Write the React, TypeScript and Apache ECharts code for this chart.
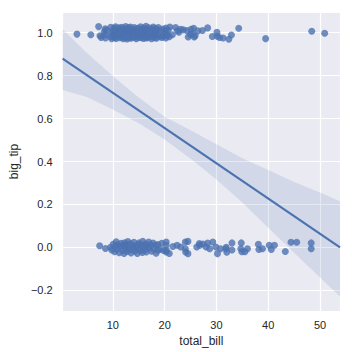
import React, { useEffect, useRef } from 'react';
import * as echarts from 'echarts';

// Axis ticks
const xTicks = [10, 20, 30, 40, 50];
const yTicks = [-0.2, 0.0, 0.2, 0.4, 0.6, 0.8, 1.0];
const xRange = [0.3, 53.86];
const yRange = [-0.296, 1.096];

// Jittered observations: big_tip = 1
const bigTipYes: number[][] = [
  [3.07, 0.993], [5.75, 0.99],
  [7.25, 1.028], [7.51, 0.985], [7.74, 0.978], [8.35, 1.004], [8.51, 0.99], [8.52, 1.018], [8.58, 0.975], [8.77, 1.012],
  [9.55, 0.982], [9.6, 1.025], [9.68, 0.996], [9.78, 0.972], [9.94, 1.008],
  [10.07, 0.985], [10.27, 1.02], [10.29, 0.977], [10.33, 1.003], [10.34, 0.99], [10.51, 1.027], [10.59, 0.981], [10.63, 1.011],
  [10.65, 0.973], [11.02, 0.995], [11.17, 1.022], [11.24, 0.984], [11.35, 1.006], [11.38, 0.976], [11.59, 1.015], [11.61, 0.989],
  [11.69, 1.025], [11.87, 0.98], [12.02, 1.002], [12.03, 0.972], [12.16, 1.018], [12.26, 0.987], [12.43, 1.009], [12.46, 0.978],
  [12.48, 1.028], [12.54, 0.994], [12.6, 0.983], [12.66, 1.014], [12.74, 0.971], [12.9, 1.003],
  [13.0, 0.988], [13.03, 1.022], [13.13, 0.976], [13.27, 1.01], [13.28, 0.992], [13.37, 0.981], [13.39, 1.026], [13.42, 1.0],
  [13.51, 0.974], [13.81, 1.016], [13.94, 0.986], [14.0, 1.007], [14.07, 0.979], [14.15, 1.024], [14.26, 0.995], [14.31, 0.983],
  [14.48, 1.012], [14.52, 0.972], [14.73, 1.003], [14.78, 0.99], [14.83, 1.02],
  [15.01, 0.978], [15.04, 1.008], [15.06, 0.985], [15.36, 1.027], [15.38, 0.997], [15.48, 0.976], [15.53, 1.015], [15.69, 0.988],
  [15.77, 1.005], [15.95, 0.973], [15.98, 1.021], [16.0, 0.993], [16.27, 0.982], [16.29, 1.011], [16.31, 0.977], [16.4, 1.029],
  [16.43, 0.998], [16.47, 0.984], [16.49, 1.016], [16.58, 0.975], [16.82, 1.006], [16.93, 0.989], [16.97, 1.023], [17.07, 0.98],
  [17.29, 1.002], [17.46, 0.972], [17.51, 1.017], [17.59, 0.991], [17.78, 0.983], [17.81, 1.026], [17.92, 1.008], [18.04, 0.976],
  [18.15, 0.995], [18.24, 1.019], [18.29, 0.986], [18.35, 1.004], [18.43, 0.974], [18.64, 1.013], [18.71, 0.99], [18.78, 1.024],
  [19.08, 0.981], [19.44, 1.009], [19.49, 0.977], [19.65, 1.017], [19.77, 0.993], [19.82, 0.984], [20.08, 1.006], [20.23, 0.975],
  [20.27, 1.021], [20.29, 0.997], [20.53, 0.986], [20.69, 1.012], [20.9, 0.981],
  [21.01, 1.026], [21.5, 0.99], [22.12, 1.024], [22.49, 1.009], [22.76, 1.002], [23.1, 1.016], [23.6, 1.013], [24.27, 1.01],
  [24.55, 0.98], [25.0, 0.991], [25.1, 1.015], [25.28, 0.996], [25.6, 1.02], [25.71, 0.98], [25.89, 0.985], [26.41, 1.008],
  [27.3, 1.01], [28.3, 1.022], [29.2, 0.982], [30.1, 1.001], [30.15, 0.983], [30.6, 0.977], [31.3, 0.975], [32.4, 0.969],
  [32.9, 0.989], [34.3, 1.02], [39.5, 0.972], [48.4, 1.006], [50.9, 0.997],
];

// Jittered observations: big_tip = 0
const bigTipNo: number[][] = [
  [7.45, 0.008], [8.57, -0.005],
  [9.55, 0.001], [9.78, -0.012], [10.07, 0.015], [10.34, -0.02], [10.51, 0.006], [10.65, 0.026], [10.77, -0.008], [11.02, 0.012],
  [11.24, -0.025], [11.35, 0.003], [11.61, 0.019], [11.87, -0.014], [12.02, 0.008], [12.16, -0.028], [12.26, 0.022], [12.43, -0.004],
  [12.6, 0.014], [12.69, -0.019], [12.9, 0.027], [13.0, 0.0], [13.16, -0.012], [13.42, 0.017], [13.51, -0.026], [13.81, 0.007],
  [13.94, -0.009], [14.07, 0.024], [14.26, -0.017], [14.48, 0.004], [14.73, -0.028], [14.83, 0.013], [15.01, -0.006], [15.06, 0.021],
  [15.36, -0.015], [15.48, 0.009], [15.69, -0.024], [15.77, 0.028], [15.98, 0.002], [16.21, -0.011], [16.29, 0.016], [16.45, -0.021],
  [16.66, 0.006], [16.93, 0.025], [16.99, -0.004], [17.26, 0.012], [17.47, -0.018], [17.78, 0.02], [17.92, -0.007], [18.26, 0.01],
  [18.35, -0.027], [18.69, 0.014], [18.7, -0.013], [19.08, -0.009], [19.44, 0.019], [19.81, -0.014],
  [20.3, 0.025], [20.3, 0.01], [20.35, -0.013], [20.3, -0.021], [20.9, -0.028], [21.6, 0.004], [22.4, 0.01], [23.1, 0.002],
  [24.0, 0.025], [24.0, -0.006], [24.05, -0.021], [24.5, 0.028], [24.5, -0.029], [26.2, 0.002], [26.7, 0.018], [26.8, 0.01],
  [27.4, 0.016], [28.0, 0.002], [28.3, 0.02], [28.7, -0.006], [29.3, 0.025], [29.9, 0.002], [30.2, -0.029], [30.8, -0.006],
  [31.8, -0.006], [31.9, 0.001], [32.0, -0.022], [33.0, 0.021], [33.0, -0.012], [34.8, 0.021], [34.7, -0.006], [34.9, -0.02],
  [35.5, -0.02], [36.0, -0.006], [38.1, 0.015], [38.2, -0.01], [38.9, -0.006], [40.2, 0.01], [40.6, -0.01], [41.2, 0.01],
  [43.3, -0.019], [44.4, 0.024], [45.5, 0.024], [48.3, 0.021], [48.3, -0.006],
];

// Fitted regression line
const fitX = [0.3, 53.86];
const fitY = [0.879, 0.0];

// Confidence band
const bandX = [0.3, 5, 10, 15, 20, 25, 30, 35, 40, 45, 50, 53.86];
const bandUpper = [1.016, 0.905, 0.798, 0.698, 0.608, 0.545, 0.48, 0.415, 0.36, 0.305, 0.256, 0.215];
const bandLower = [0.733, 0.7, 0.642, 0.578, 0.502, 0.413, 0.316, 0.209, 0.092, -0.025, -0.14, -0.229];

const FONT = "'Liberation Sans', Arial, sans-serif";
const BLUE = '#4C72B0';

function fmtTick(ticks: number[], v: number, digits: number) {
  const t = ticks.find((k) => Math.abs(k - v) < 1e-6);
  if (t === undefined) return '';
  const s = Math.abs(t).toFixed(digits);
  return (t < -1e-9 ? '\u2212' : '') + s;
}

export default function App() {
  const ref = useRef<HTMLDivElement>(null);
  useEffect(() => {
    const chart = echarts.init(ref.current!, null, { renderer: 'svg' });
    chart.setOption({
      animation: false,
      backgroundColor: '#ffffff',
      textStyle: { fontFamily: FONT },
      grid: {
        left: 53, right: 12, top: 12, bottom: 41,
        show: true, backgroundColor: '#EAEAF2', borderWidth: 0,
      },
      xAxis: {
        type: 'value',
        min: xRange[0], max: xRange[1],
        splitNumber: 5, minInterval: 10, maxInterval: 10,
        name: 'total_bill', nameLocation: 'middle', nameGap: 23,
        nameTextStyle: { color: '#262626', fontSize: 12, fontFamily: FONT },
        axisLine: { show: false }, axisTick: { show: false },
        splitLine: { show: true, lineStyle: { color: '#ffffff', width: 1.2 } },
        axisLabel: {
          color: '#262626', fontSize: 11, fontFamily: FONT, margin: 8,
          showMinLabel: false, showMaxLabel: false,
          formatter: (v: number) => fmtTick(xTicks, v, 0),
        },
      },
      yAxis: {
        type: 'value',
        min: yRange[0], max: yRange[1],
        splitNumber: 7, minInterval: 0.2, maxInterval: 0.2,
        name: 'big_tip', nameLocation: 'middle', nameGap: 34,
        nameTextStyle: { color: '#262626', fontSize: 12, fontFamily: FONT },
        axisLine: { show: false }, axisTick: { show: false },
        splitLine: { show: true, lineStyle: { color: '#ffffff', width: 1.2 } },
        axisLabel: {
          color: '#262626', fontSize: 11, fontFamily: FONT, margin: 10,
          showMinLabel: false, showMaxLabel: false,
          formatter: (v: number) => fmtTick(yTicks, v, 1),
        },
      },
      series: [
        {
          type: 'custom',
          silent: true,
          z: 1,
          clip: true,
          data: bandX.map((x, i) => [x, bandUpper[i], bandLower[i]]),
          encode: { x: 0, y: [1, 2] },
          renderItem: (params: any, api: any) => {
            if (params.dataIndex !== 0) return null;
            const pts: number[][] = [];
            for (let i = 0; i < bandX.length; i++) pts.push(api.coord([bandX[i], bandUpper[i]]));
            for (let i = bandX.length - 1; i >= 0; i--) pts.push(api.coord([bandX[i], bandLower[i]]));
            return {
              type: 'polygon',
              shape: { points: pts },
              style: { fill: 'rgba(76,114,176,0.15)', stroke: 'none' },
            };
          },
        },
        {
          type: 'scatter',
          z: 2,
          symbolSize: 7,
          itemStyle: { color: BLUE, opacity: 0.8 },
          data: bigTipYes,
        },
        {
          type: 'scatter',
          z: 2,
          symbolSize: 7,
          itemStyle: { color: BLUE, opacity: 0.8 },
          data: bigTipNo,
        },
        {
          type: 'line',
          z: 3,
          symbol: 'none',
          lineStyle: { color: BLUE, width: 2.2 },
          data: fitX.map((x, i) => [x, fitY[i]]),
        },
      ],
    });
    return () => chart.dispose();
  }, []);
  return <div ref={ref} style={{ position: 'absolute', left: 0, top: 0, width: 352, height: 352 }} />;
}
